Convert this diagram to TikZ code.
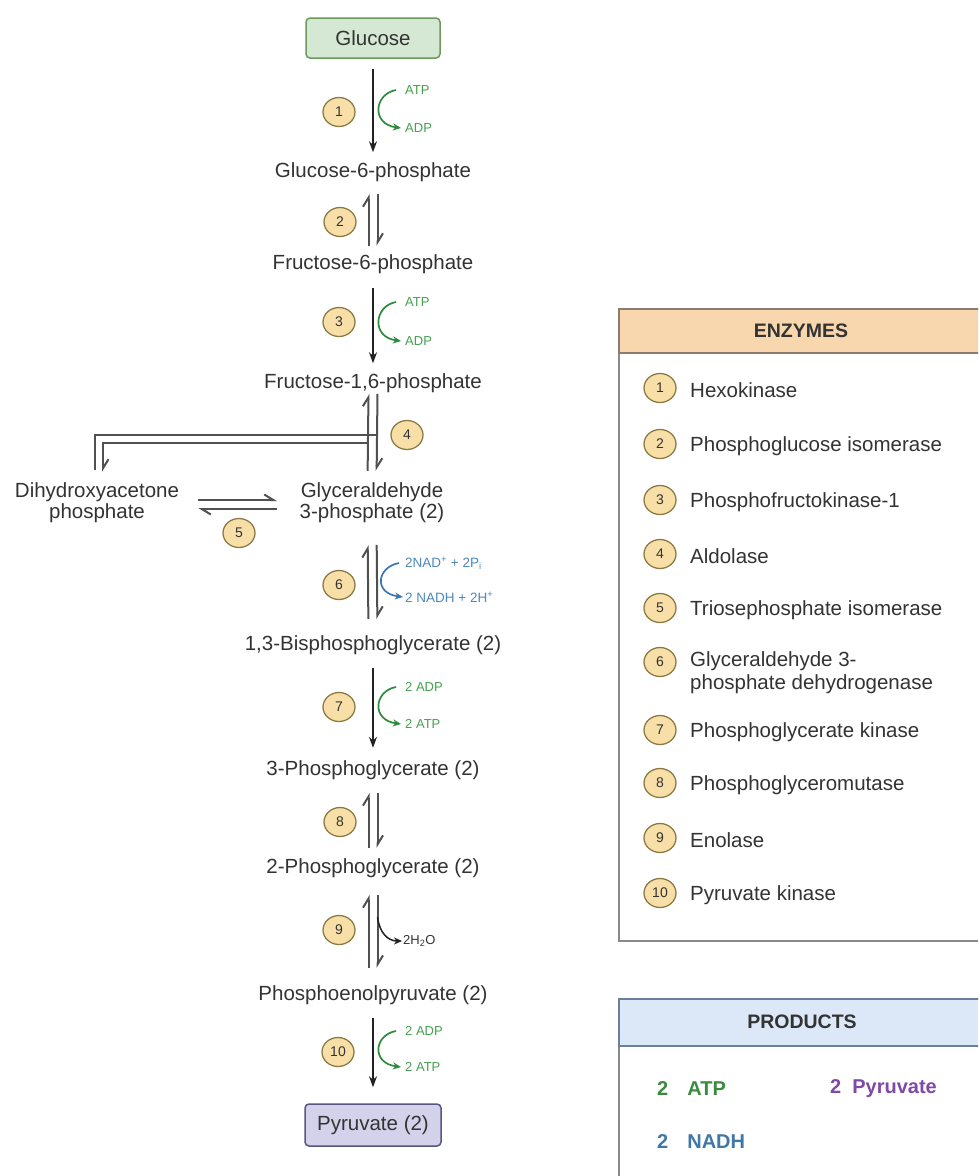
\documentclass[tikz,border=0pt]{standalone}
\usepackage{fontspec}
\setmainfont{Liberation Sans}
\usetikzlibrary{arrows.meta,shapes.geometric,calc}
\definecolor{txt}{HTML}{333333}
\definecolor{arrc}{HTML}{222222}
\definecolor{harpc}{HTML}{505050}
\definecolor{glcf}{HTML}{D5E8D4}
\definecolor{glcd}{HTML}{6A9A5C}
\definecolor{pyrf}{HTML}{D4D2EA}
\definecolor{pyrd}{HTML}{5A557E}
\definecolor{circf}{HTML}{F8DFA8}
\definecolor{circd}{HTML}{8C7A45}
\definecolor{gtxt}{HTML}{46A050}
\definecolor{gcur}{HTML}{2E8B3E}
\definecolor{btxt}{HTML}{4D88BF}
\definecolor{bcur}{HTML}{3C78B0}
\definecolor{enzf}{HTML}{F8D7AE}
\definecolor{enzd}{HTML}{8A7D6E}
\definecolor{prodf}{HTML}{DCE8F8}
\definecolor{prodd}{HTML}{6A7F99}
\definecolor{paneld}{HTML}{8A8A8A}
\definecolor{pgreen}{HTML}{3A8A3F}
\definecolor{ppurple}{HTML}{7E4AA6}
\definecolor{pblue}{HTML}{3F78A8}
\newcommand\eqharp[4]{%
  \draw[harp, shorten <=#4, shorten >=#3] ([xshift=-4.5pt]#2.north) -- ([xshift=-4.5pt]#1.south);
  \draw[harp, shorten <=#3, shorten >=#4] ([xshift=4.5pt]#1.south) -- ([xshift=4.5pt]#2.north);}
\begin{document}
\begin{tikzpicture}[x=1pt,y=-1pt,
  lbl/.style={font=\fontsize{20.5}{21}\selectfont, text=txt, align=center, inner sep=0pt},
  boxn/.style={rounded corners=4pt, line width=1.5pt, minimum width=134pt, minimum height=40pt, font=\fontsize{20.5}{21}\selectfont, text=txt},
  num/.style={ellipse, draw=circd, fill=circf, line width=1.3pt, minimum width=32pt, minimum height=29pt, inner sep=0pt, text=txt, font=\fontsize{14}{14}\selectfont},
  sidelbl/.style={anchor=west, inner sep=0pt, font=\fontsize{13}{14}\selectfont},
  fwd/.style={draw=arrc, line width=1.4pt, -{Stealth[length=11pt,width=8pt]}},
  harp/.style={draw=harpc, line width=2pt, -{Straight Barb[left,length=9pt,width=11pt]}},
  gline/.style={draw=harpc, line width=2pt},
  gcurve/.style={draw=gcur, line width=1.7pt, -{Stealth[length=8pt,width=7pt]}},
  bcurve/.style={draw=bcur, line width=1.7pt, -{Stealth[length=8pt,width=7pt]}},
  kcurve/.style={draw=arrc, line width=1.5pt, -{Stealth[length=8pt,width=7pt]}},
  enzt/.style={anchor=west, inner sep=0pt, text=txt, align=left, font=\fontsize{20.5}{23}\selectfont},
  headt/.style={inner sep=0pt, text=txt, font=\bfseries\fontsize{19.5}{21}\selectfont},
  prodt/.style={anchor=west, inner sep=0pt, font=\bfseries\fontsize{20}{22}\selectfont}
]
\useasboundingbox (0,0) rectangle (978,1176);
\clip (0,0) rectangle (978,1176);
\fill[white] (0,0) rectangle (978,1176);

% ---------- pathway nodes ----------
\node[boxn, fill=glcf, draw=glcd] (glc) at (373,38) {Glucose};
\node[lbl] (g6p) at (373,172) {Glucose-6-phosphate};
\node[lbl] (f6p) at (373,264) {Fructose-6-phosphate};
\node[lbl] (f16p) at (373,383) {Fructose-1,6-phosphate};
\node[lbl] (g3p) at (372,503) {Glyceraldehyde\\3-phosphate (2)};
\node[lbl] (dhap) at (97,503) {Dihydroxyacetone\\phosphate};
\node[lbl] (bpg) at (373,645) {1,3-Bisphosphoglycerate (2)};
\node[lbl] (pg3) at (373,770) {3-Phosphoglycerate (2)};
\node[lbl] (pg2) at (373,868) {2-Phosphoglycerate (2)};
\node[lbl] (pep) at (373,995) {Phosphoenolpyruvate (2)};
\node[boxn, fill=pyrf, draw=pyrd, minimum width=136pt, minimum height=42pt] (pyr) at (373,1125) {Pyruvate (2)};

% ---------- step numbers ----------
\node[num] (c1) at (339,112) {1};
\node[num] (c2) at (340,222) {2};
\node[num] (c3) at (339,322) {3};
\node[num] (c4) at (407,435) {4};
\node[num] (c5) at (239,533) {5};
\node[num] (c6) at (339,585) {6};
\node[num] (c7) at (339,707) {7};
\node[num] (c8) at (340,822) {8};
\node[num] (c9) at (339,930) {9};
\node[num] (c10) at (338,1052) {10};

% ---------- main connectors ----------
\draw[fwd, shorten <=10pt, shorten >=10pt] (glc) -- (g6p);
\eqharp{g6p}{f6p}{12.4pt}{8.4pt}
\draw[fwd, shorten <=14.5pt, shorten >=10pt] (f6p) -- (f16p);
\eqharp{f16p}{g3p}{1pt}{12pt}
\eqharp{g3p}{bpg}{21.7pt}{16.3pt}
\draw[fwd, shorten <=13.3pt, shorten >=12.4pt] (bpg) -- (pg3);
\eqharp{pg3}{pg2}{13.3pt}{10.3pt}
\eqharp{pg2}{pep}{17.3pt}{17.3pt}
\draw[fwd, shorten <=13.3pt, shorten >=16pt] (pep) -- (pyr);

% aldolase branch to DHAP
\coordinate (brO) at (377.5,435);
\coordinate (brI) at (368.5,443);
\draw[gline, shorten >=13pt] (brO) -| ([xshift=-2pt]dhap.north);
\draw[harp, shorten >=11pt] (brI) -| ([xshift=6pt]dhap.north);

% triose phosphate isomerase
\draw[harp, shorten <=19pt, shorten >=22.6pt] ([yshift=3pt]dhap.east) -- ([yshift=3pt]g3p.west);
\draw[harp, shorten <=22.6pt, shorten >=19pt] ([yshift=-6pt]g3p.west) -- ([yshift=-6pt]dhap.east);

% ---------- side reactions ----------
\node[sidelbl, text=gtxt] (atp1) at (405,90) {ATP};
\node[sidelbl, text=gtxt] (adp1) at (405,128) {ADP};
\draw[gcurve] ([xshift=-9pt]atp1.west) .. controls +(-22,4) and +(-30,-4) .. ([xshift=-4pt]adp1.west);

\node[sidelbl, text=gtxt] (atp3) at (405,302) {ATP};
\node[sidelbl, text=gtxt] (adp3) at (405,341) {ADP};
\draw[gcurve] ([xshift=-9pt]atp3.west) .. controls +(-22,4) and +(-30,-4) .. ([xshift=-4pt]adp3.west);

\node[sidelbl, text=btxt, font=\fontsize{13.5}{14}\selectfont] (nad) at (405,563) {2NAD\textsuperscript{+} + 2P\textsubscript{i}};
\node[sidelbl, text=btxt, font=\fontsize{13.5}{14}\selectfont] (nadh) at (405,597) {2 NADH + 2H\textsuperscript{+}};
\draw[bcurve] ([xshift=-6pt]nad.west) .. controls +(-22,4) and +(-30,-4) .. ([xshift=-2pt]nadh.west);

\node[sidelbl, text=gtxt] (adp7) at (405,687) {2 ADP};
\node[sidelbl, text=gtxt] (atp7) at (405,724) {2 ATP};
\draw[gcurve] ([xshift=-9pt]adp7.west) .. controls +(-22,4) and +(-30,-4) .. ([xshift=-4pt]atp7.west);

\coordinate (b9) at (377.5,917);
\node[sidelbl, text=txt, font=\fontsize{13}{14}\selectfont] (h2o) at (403,941) {2H\textsubscript{2}O};
\draw[kcurve] (b9) .. controls +(2,16) and +(-14,0) .. ([xshift=-1pt]h2o.west);

\node[sidelbl, text=gtxt] (adp10) at (405,1031) {2 ADP};
\node[sidelbl, text=gtxt] (atp10) at (405,1067) {2 ATP};
\draw[gcurve] ([xshift=-9pt]adp10.west) .. controls +(-22,4) and +(-30,-4) .. ([xshift=-4pt]atp10.west);

% ---------- ENZYMES panel ----------
\node[draw=paneld, line width=1.5pt, fill=white, anchor=north west, minimum width=372pt, minimum height=632pt, inner sep=0pt] (enz) at (618,308) {};
\node[draw=enzd, line width=1.5pt, fill=enzf, anchor=north west, minimum width=372pt, minimum height=44pt, inner sep=0pt] (enzh) at (618,308) {};
\node[headt] (enzt) at (801,331) {ENZYMES};

\node[num] (e1) at (660,388) {1};  \node[enzt] (n1) at (690,390) {Hexokinase};
\node[num] (e2) at (660,444) {2};  \node[enzt] (n2) at (690,446) {Phosphoglucose isomerase};
\node[num] (e3) at (660,500) {3};  \node[enzt] (n3) at (690,502) {Phosphofructokinase-1};
\node[num] (e4) at (660,554) {4};  \node[enzt] (n4) at (690,556) {Aldolase};
\node[num] (e5) at (660,608) {5};  \node[enzt] (n5) at (690,610) {Triosephosphate isomerase};
\node[num] (e6) at (660,662) {6};  \node[enzt] (n6) at (690,673) {Glyceraldehyde 3-\\phosphate dehydrogenase};
\node[num] (e7) at (660,730) {7};  \node[enzt] (n7) at (690,732) {Phosphoglycerate kinase};
\node[num] (e8) at (660,783) {8};  \node[enzt] (n8) at (690,785) {Phosphoglyceromutase};
\node[num] (e9) at (660,838) {9};  \node[enzt] (n9) at (690,840) {Enolase};
\node[num] (e10) at (660,893) {10}; \node[enzt] (n10) at (690,895) {Pyruvate kinase};

% ---------- PRODUCTS panel ----------
\node[draw=paneld, line width=1.5pt, fill=white, anchor=north west, minimum width=372pt, minimum height=260pt, inner sep=0pt] (prod) at (618,998) {};
\node[draw=prodd, line width=1.5pt, fill=prodf, anchor=north west, minimum width=372pt, minimum height=47pt, inner sep=0pt] (prodh) at (618,998) {};
\node[headt] (prodtt) at (802,1022) {PRODUCTS};
\node[prodt, text=pgreen] (patp) at (657,1089) {2\hspace{19pt}ATP};
\node[prodt, text=ppurple] (ppyr) at (830,1089) {2\hspace{11pt}Pyruvate};
\node[prodt, text=pblue] (pnadh) at (657,1142) {2\hspace{19pt}NADH};
\end{tikzpicture}
\end{document}
